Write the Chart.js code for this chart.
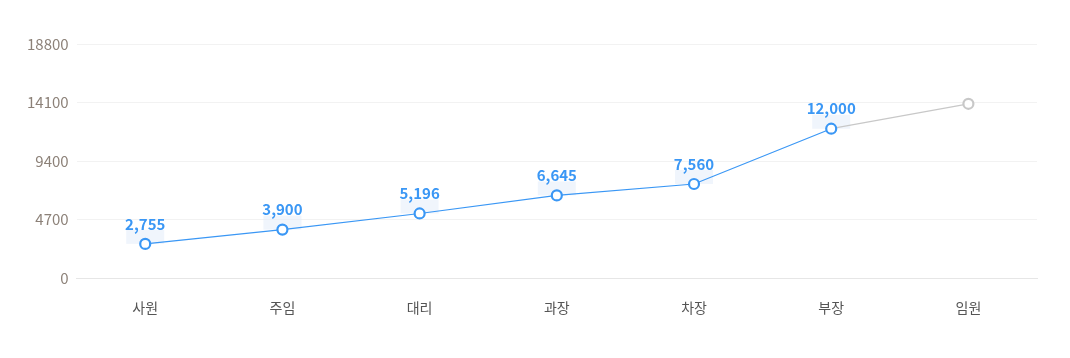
<!DOCTYPE html>
<html><head><meta charset="utf-8">
<script src="https://cdn.jsdelivr.net/npm/chart.js@4"></script>
<style>html,body{margin:0;padding:0;background:#fff;}#wrap{width:1070px;height:358px;position:relative;}</style>
</head><body><div id="wrap"><canvas id="c"></canvas></div>
<script>
const categories = ['사원','주임','대리','과장','차장','부장','임원'];
const values = [2755, 3900, 5196, 6645, 7560, 12000, 14000];
const labelShown = [true, true, true, true, true, true, false];
const yTicks = [0, 4700, 9400, 14100, 18800];

const BLUE = '#3a97f5', GRAY = '#c8c8c8';
const FONT = "'Noto Sans CJK KR','Noto Sans',sans-serif";

const labelPlugin = {
  id: 'valLabels',
  beforeDatasetsDraw(chart) {
    const ctx = chart.ctx, meta = chart.getDatasetMeta(0);
    ctx.save();
    ctx.fillStyle = 'rgba(228,236,250,0.55)';
    meta.data.forEach((p, i) => {
      if (!labelShown[i]) return;
      ctx.fillRect(p.x - 19, p.y - 14, 38, 14);
    });
    ctx.restore();
  },
  afterDatasetsDraw(chart) {
    const ctx = chart.ctx, meta = chart.getDatasetMeta(0);
    ctx.save();
    ctx.font = 'bold 15px ' + FONT;
    ctx.fillStyle = BLUE;
    ctx.textAlign = 'center';
    ctx.textBaseline = 'middle';
    meta.data.forEach((p, i) => {
      if (!labelShown[i]) return;
      ctx.fillText(values[i].toLocaleString('en-US'), p.x, p.y - 20);
    });
    ctx.restore();
  }
};

new Chart(document.getElementById('c'), {
  type: 'line',
  data: {
    labels: categories,
    datasets: [{
      data: values,
      borderColor: BLUE,
      borderWidth: 1.2,
      pointRadius: 5,
      pointBorderWidth: 2.2,
      pointBackgroundColor: '#fff',
      pointBorderColor: values.map((v, i) => labelShown[i] ? BLUE : GRAY),
      segment: { borderColor: c => labelShown[c.p1DataIndex] ? BLUE : GRAY },
      tension: 0
    }]
  },
  options: {
    responsive: true, maintainAspectRatio: false, animation: false,
    layout: { padding: { left: 19, right: 33, top: 44, bottom: 21 } },
    plugins: { legend: { display: false }, tooltip: { enabled: false } },
    scales: {
      x: {
        offset: true,
        grid: { display: false, drawTicks: false },
        border: { display: true, color: '#e6e6e6' },
        ticks: { color: '#555', font: { size: 14, family: FONT }, padding: 21 }
      },
      y: {
        min: 0, max: 18800,
        afterBuildTicks: s => { s.ticks = yTicks.map(v => ({ value: v })); },
        grid: { color: '#f2f2f2', drawTicks: false },
        border: { display: false },
        ticks: { color: '#8c8178', font: { size: 15, family: FONT }, padding: 8, callback: v => String(v) }
      }
    }
  },
  plugins: [labelPlugin]
});
</script></body></html>
